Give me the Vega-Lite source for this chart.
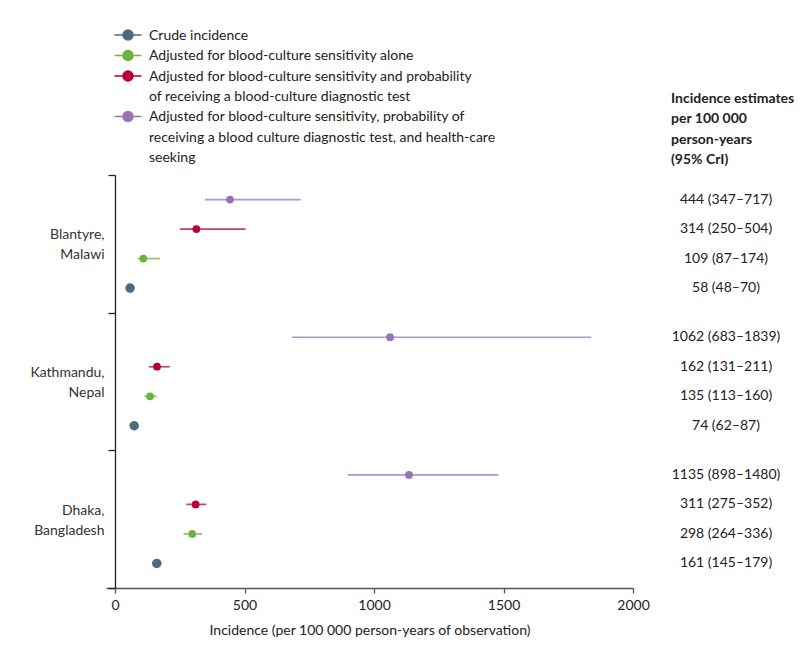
{
  "$schema": "https://vega.github.io/schema/vega-lite/v6.json",
  "padding": {"left": 29, "top": 24, "right": 0, "bottom": 0},
  "bounds": "flush",
  "spacing": 38,
  "config": {
    "font": "Lato",
    "view": {"stroke": null},
    "axis": {"labelColor": "#222", "titleColor": "#222", "labelFontSize": 14, "titleFontSize": 14, "titleFontWeight": "normal", "grid": false}
  },
  "data": {
    "values": [
      {"site": "Blantyre, Malawi", "measure": "Crude incidence", "est": 58, "lo": 48, "hi": 70, "label": "58 (48–70)"},
      {"site": "Blantyre, Malawi", "measure": "Adjusted for blood-culture sensitivity alone", "est": 109, "lo": 87, "hi": 174, "label": "109 (87–174)"},
      {"site": "Blantyre, Malawi", "measure": "Adjusted for blood-culture sensitivity and probability|of receiving a blood-culture diagnostic test", "est": 314, "lo": 250, "hi": 504, "label": "314 (250–504)"},
      {"site": "Blantyre, Malawi", "measure": "Adjusted for blood-culture sensitivity, probability of|receiving a blood culture diagnostic test, and health-care|seeking", "est": 444, "lo": 347, "hi": 717, "label": "444 (347–717)"},
      {"site": "Kathmandu, Nepal", "measure": "Crude incidence", "est": 74, "lo": 62, "hi": 87, "label": "74 (62–87)"},
      {"site": "Kathmandu, Nepal", "measure": "Adjusted for blood-culture sensitivity alone", "est": 135, "lo": 113, "hi": 160, "label": "135 (113–160)"},
      {"site": "Kathmandu, Nepal", "measure": "Adjusted for blood-culture sensitivity and probability|of receiving a blood-culture diagnostic test", "est": 162, "lo": 131, "hi": 211, "label": "162 (131–211)"},
      {"site": "Kathmandu, Nepal", "measure": "Adjusted for blood-culture sensitivity, probability of|receiving a blood culture diagnostic test, and health-care|seeking", "est": 1062, "lo": 683, "hi": 1839, "label": "1062 (683–1839)"},
      {"site": "Dhaka, Bangladesh", "measure": "Crude incidence", "est": 161, "lo": 145, "hi": 179, "label": "161 (145–179)"},
      {"site": "Dhaka, Bangladesh", "measure": "Adjusted for blood-culture sensitivity alone", "est": 298, "lo": 264, "hi": 336, "label": "298 (264–336)"},
      {"site": "Dhaka, Bangladesh", "measure": "Adjusted for blood-culture sensitivity and probability|of receiving a blood-culture diagnostic test", "est": 311, "lo": 275, "hi": 352, "label": "311 (275–352)"},
      {"site": "Dhaka, Bangladesh", "measure": "Adjusted for blood-culture sensitivity, probability of|receiving a blood culture diagnostic test, and health-care|seeking", "est": 1135, "lo": 898, "hi": 1480, "label": "1135 (898–1480)"}
    ]
  },
  "hconcat": [
    {
      "width": 527,
      "height": 413,
      "encoding": {
        "y": {
          "field": "site", "type": "nominal",
          "scale": {"domain": ["Blantyre, Malawi", "Kathmandu, Nepal", "Dhaka, Bangladesh"], "paddingInner": 0, "paddingOuter": 0},
          "axis": {"title": null, "tickBand": "extent", "tickSize": 7, "offset": -9, "labelPadding": 4, "labelOffset": -9, "labelExpr": "split(datum.label, ' ')", "labelLineHeight": 20, "domainColor": "#222", "tickColor": "#222", "domainWidth": 1.3, "tickWidth": 1.3, "labelColor": "#333"}
        },
        "yOffset": {
          "field": "measure", "type": "nominal",
          "scale": {
            "domain": [
              "Adjusted for blood-culture sensitivity, probability of|receiving a blood culture diagnostic test, and health-care|seeking",
              "Adjusted for blood-culture sensitivity and probability|of receiving a blood-culture diagnostic test",
              "Adjusted for blood-culture sensitivity alone",
              "Crude incidence"
            ],
            "paddingInner": 0, "paddingOuter": 0.333
          }
        },
        "color": {
          "field": "measure", "type": "nominal",
          "scale": {
            "domain": [
              "Crude incidence",
              "Adjusted for blood-culture sensitivity alone",
              "Adjusted for blood-culture sensitivity and probability|of receiving a blood-culture diagnostic test",
              "Adjusted for blood-culture sensitivity, probability of|receiving a blood culture diagnostic test, and health-care|seeking"
            ],
            "range": ["#4d6b78", "#6cb33f", "#b5003b", "#9b72b5"]
          },
          "legend": {
            "orient": "none", "legendX": 8.5, "legendY": -151, "title": null, "padding": 0,
            "symbolType": "M -1.35 0 L 1.35 0 M 0.5 0 A 0.5 0.5 0 1 1 -0.5 0 A 0.5 0.5 0 1 1 0.5 0 Z",
            "symbolSize": 400, "symbolStrokeWidth": 1.5, "symbolOpacity": 1,
            "labelFontSize": 14, "labelColor": "#222", "labelExpr": "split(datum.label, '|')",
            "labelLimit": 600, "labelOffset": 12.5, "rowPadding": 1.5, "labelBaseline": "alphabetic",
            "encode": {
              "labels": {"update": {"lineHeight": {"value": 20.5}, "dy": {"value": 4.5}}},
              "symbols": {"update": {"xc": {"value": 13.5}}}
            }
          }
        }
      },
      "layer": [
        {
          "mark": {"type": "rule", "strokeWidth": 1.7, "opacity": 0.75},
          "encoding": {
            "x": {
              "field": "lo", "type": "quantitative",
              "scale": {"domain": [-35, 2000], "nice": false, "zero": false},
              "axis": {"values": [0, 500, 1000, 1500, 2000], "format": "d", "tickSize": 5, "labelPadding": 5, "titlePadding": 11, "domainColor": "#555", "tickColor": "#555", "domainWidth": 1.3, "tickWidth": 1.3, "labelFlush": false,
                       "title": "Incidence (per 100 000 person-years of observation)"}
            },
            "x2": {"field": "hi"}
          }
        },
        {
          "mark": {"type": "circle", "opacity": 1},
          "encoding": {
            "x": {"field": "est", "type": "quantitative"},
            "size": {"condition": {"test": "datum.measure === 'Crude incidence'", "value": 90}, "value": 60}
          }
        }
      ]
    },
    {
      "width": 110,
      "height": 413,
      "title": {
        "text": ["Incidence estimates", "per 100 000", "person-years", "(95% CrI)"],
        "anchor": "start", "frame": "group", "fontSize": 14, "fontWeight": "bold",
        "lineHeight": 20.5, "offset": 8, "color": "#222"
      },
      "mark": {"type": "text", "fontSize": 14, "color": "#222"},
      "encoding": {
        "y": {
          "field": "site", "type": "nominal",
          "scale": {"domain": ["Blantyre, Malawi", "Kathmandu, Nepal", "Dhaka, Bangladesh"], "paddingInner": 0, "paddingOuter": 0},
          "axis": null
        },
        "yOffset": {
          "field": "measure", "type": "nominal",
          "scale": {
            "domain": [
              "Adjusted for blood-culture sensitivity, probability of|receiving a blood culture diagnostic test, and health-care|seeking",
              "Adjusted for blood-culture sensitivity and probability|of receiving a blood-culture diagnostic test",
              "Adjusted for blood-culture sensitivity alone",
              "Crude incidence"
            ],
            "paddingInner": 0, "paddingOuter": 0.333
          }
        },
        "text": {"field": "label"}
      }
    }
  ]
}
